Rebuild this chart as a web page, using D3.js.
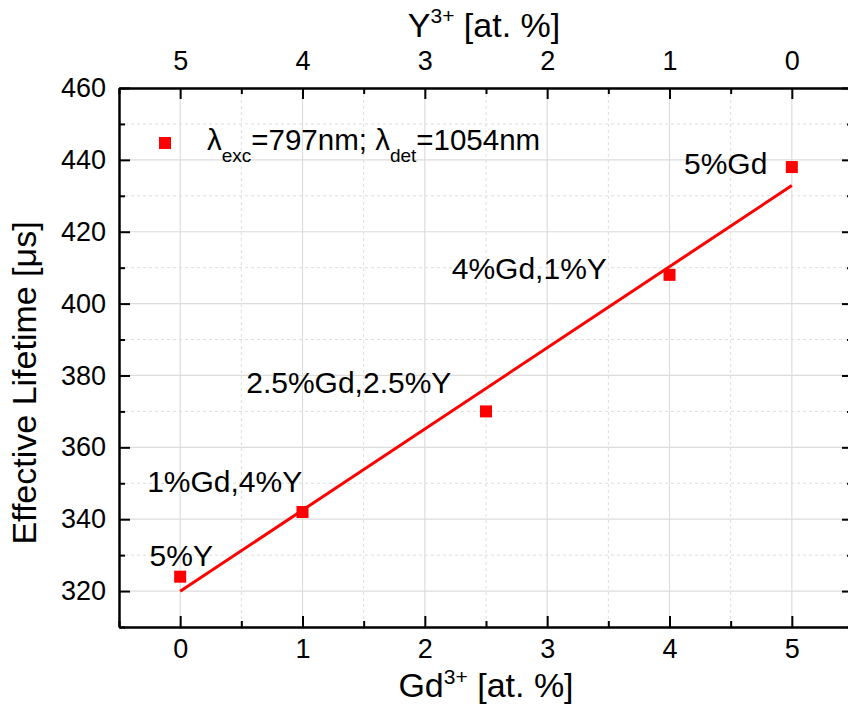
<!DOCTYPE html>
<html><head><meta charset="utf-8">
<script src="https://cdn.jsdelivr.net/npm/d3@7"></script>
<style>
html,body{margin:0;padding:0;background:#fff;}
svg{display:block;font-family:Arial,"Liberation Sans",sans-serif;}
</style></head>
<body><svg id="c" width="848" height="711"></svg>
<script>
// ---- data ----
const gdValues = [0, 1, 2.5, 4, 5];
const lifetimes = [324, 342, 370, 408, 438];
const pointLabels = ["5%Y", "1%Gd,4%Y", "2.5%Gd,2.5%Y", "4%Gd,1%Y", "5%Gd"];
// label anchors in data units (x, baseline y)
const labelX = [-0.25, -0.27, 0.54, 2.22, 4.80];
const labelY = [327.1, 347.7, 375.2, 406.9, 436];
const labelAnchor = ["start", "start", "start", "start", "end"];
const xTicks = [0, 1, 2, 3, 4, 5];
const topTickLabels = ["5", "4", "3", "2", "1", "0"];
const xMinor = [-0.5, 0.5, 1.5, 2.5, 3.5, 4.5, 5.5];
const yTicks = [320, 340, 360, 380, 400, 420, 440, 460];
const yMinor = [310, 330, 350, 370, 390, 410, 430, 450];
const xDomain = [-0.5, 5.5];
const yDomain = [310, 460];

// ---- layout ----
const L = 119, R = 853, T = 88, B = 627;
const svg = d3.select("#c");
const x = d3.scaleLinear().domain(xDomain).range([L, R]);
const y = d3.scaleLinear().domain(yDomain).range([B, T]);
const RED = "#ff0000";

// grid
const g = svg.append("g");
g.selectAll(".vminor").data(xMinor).join("line")
  .attr("x1", d => x(d)).attr("x2", d => x(d)).attr("y1", T).attr("y2", B)
  .attr("stroke", "#dedede").attr("stroke-dasharray", "3,3").attr("stroke-width", 1);
g.selectAll(".hminor").data(yMinor).join("line")
  .attr("y1", d => y(d)).attr("y2", d => y(d)).attr("x1", L).attr("x2", R)
  .attr("stroke", "#dedede").attr("stroke-dasharray", "3,3").attr("stroke-width", 1);
g.selectAll(".vmajor").data(xTicks).join("line")
  .attr("x1", d => x(d)).attr("x2", d => x(d)).attr("y1", T).attr("y2", B)
  .attr("stroke", "#dcdcdc").attr("stroke-width", 1.2);
g.selectAll(".hmajor").data(yTicks).join("line")
  .attr("y1", d => y(d)).attr("y2", d => y(d)).attr("x1", L).attr("x2", R)
  .attr("stroke", "#dcdcdc").attr("stroke-width", 1.2);

// axes
const tickFs = 27;
function styleAxis(sel) {
  sel.select(".domain").attr("stroke", "#000").attr("stroke-width", 2);
  sel.selectAll(".tick line").attr("stroke", "#000").attr("stroke-width", 2);
  sel.selectAll(".tick text").attr("font-size", tickFs).attr("fill", "#000")
     .attr("font-family", "Arial, 'Liberation Sans', sans-serif");
}
// bottom
svg.append("g").attr("transform", `translate(0,${B})`)
  .call(d3.axisBottom(x).tickValues(xTicks).tickFormat(d3.format("d")).tickSizeInner(-11).tickSizeOuter(0).tickPadding(12))
  .call(styleAxis);
svg.append("g").attr("transform", `translate(0,${B})`)
  .call(d3.axisBottom(x).tickValues(xMinor).tickFormat("").tickSizeInner(-6).tickSizeOuter(0))
  .call(styleAxis);
// top
svg.append("g").attr("transform", `translate(0,${T})`)
  .call(d3.axisTop(x).tickValues(xTicks).tickFormat((d, i) => topTickLabels[i]).tickSizeInner(-11).tickSizeOuter(0).tickPadding(18))
  .call(styleAxis);
svg.append("g").attr("transform", `translate(0,${T})`)
  .call(d3.axisTop(x).tickValues(xMinor).tickFormat("").tickSizeInner(-6).tickSizeOuter(0))
  .call(styleAxis);
// left
svg.append("g").attr("transform", `translate(${L},0)`)
  .call(d3.axisLeft(y).tickValues(yTicks).tickFormat(d3.format("d")).tickSizeInner(-11).tickSizeOuter(0).tickPadding(13))
  .call(styleAxis);
svg.append("g").attr("transform", `translate(${L},0)`)
  .call(d3.axisLeft(y).tickValues(yMinor).tickFormat("").tickSizeInner(-6).tickSizeOuter(0))
  .call(styleAxis);
// right
svg.append("g").attr("transform", `translate(${R},0)`)
  .call(d3.axisRight(y).tickValues(yTicks).tickFormat("").tickSizeInner(-11).tickSizeOuter(0))
  .call(styleAxis);
svg.append("g").attr("transform", `translate(${R},0)`)
  .call(d3.axisRight(y).tickValues(yMinor).tickFormat("").tickSizeInner(-6).tickSizeOuter(0))
  .call(styleAxis);

// points
const pts = gdValues.map((d, i) => ({x: d, y: lifetimes[i]}));
const S = 12;
svg.append("g").selectAll("rect").data(pts).join("rect")
  .attr("x", d => x(d.x) - S / 2).attr("y", d => y(d.y) - S / 2)
  .attr("width", S).attr("height", S).attr("fill", RED);

// linear fit
const mx = d3.mean(gdValues), my = d3.mean(lifetimes);
const slope = d3.sum(gdValues, (d, i) => (d - mx) * (lifetimes[i] - my)) / d3.sum(gdValues, d => (d - mx) * (d - mx));
const icpt = my - slope * mx;
const fitX = [d3.min(gdValues), d3.max(gdValues)];
svg.append("path")
  .attr("d", d3.line().x(d => x(d)).y(d => y(icpt + slope * d))(fitX))
  .attr("stroke", RED).attr("stroke-width", 3).attr("fill", "none");

// point labels
svg.append("g").selectAll("text").data(pointLabels).join("text")
  .attr("x", (d, i) => x(labelX[i])).attr("y", (d, i) => y(labelY[i]))
  .attr("text-anchor", (d, i) => labelAnchor[i])
  .attr("font-size", 30).attr("fill", "#000").text(d => d);

// legend
svg.append("rect").attr("x", 165 - S / 2).attr("y", 143 - S / 2).attr("width", S).attr("height", S).attr("fill", RED);
const lt = svg.append("text").attr("x", 207).attr("y", 150).attr("font-size", 29.5).attr("fill", "#000");
lt.append("tspan").text("λ");
lt.append("tspan").attr("font-size", 19).attr("dy", 12).text("exc");
lt.append("tspan").attr("dy", -12).text("=797nm; λ");
lt.append("tspan").attr("font-size", 19).attr("dy", 12).text("det");
lt.append("tspan").attr("dy", -12).text("=1054nm");

// axis titles
const titleFs = 34;
const bt = svg.append("text").attr("x", 486).attr("y", 697).attr("text-anchor", "middle").attr("font-size", titleFs);
bt.append("tspan").text("Gd");
bt.append("tspan").attr("font-size", 21).attr("dy", -13).text("3+");
bt.append("tspan").attr("dy", 13).text(" [at. %]");
const tt = svg.append("text").attr("x", 484).attr("y", 37).attr("text-anchor", "middle").attr("font-size", titleFs);
tt.append("tspan").text("Y");
tt.append("tspan").attr("font-size", 21).attr("dy", -14).text("3+");
tt.append("tspan").attr("dy", 14).text(" [at. %]");
svg.append("text").attr("transform", "translate(36,383) rotate(-90)")
  .attr("text-anchor", "middle").attr("font-size", titleFs).text("Effective Lifetime [μs]");
</script></body></html>
